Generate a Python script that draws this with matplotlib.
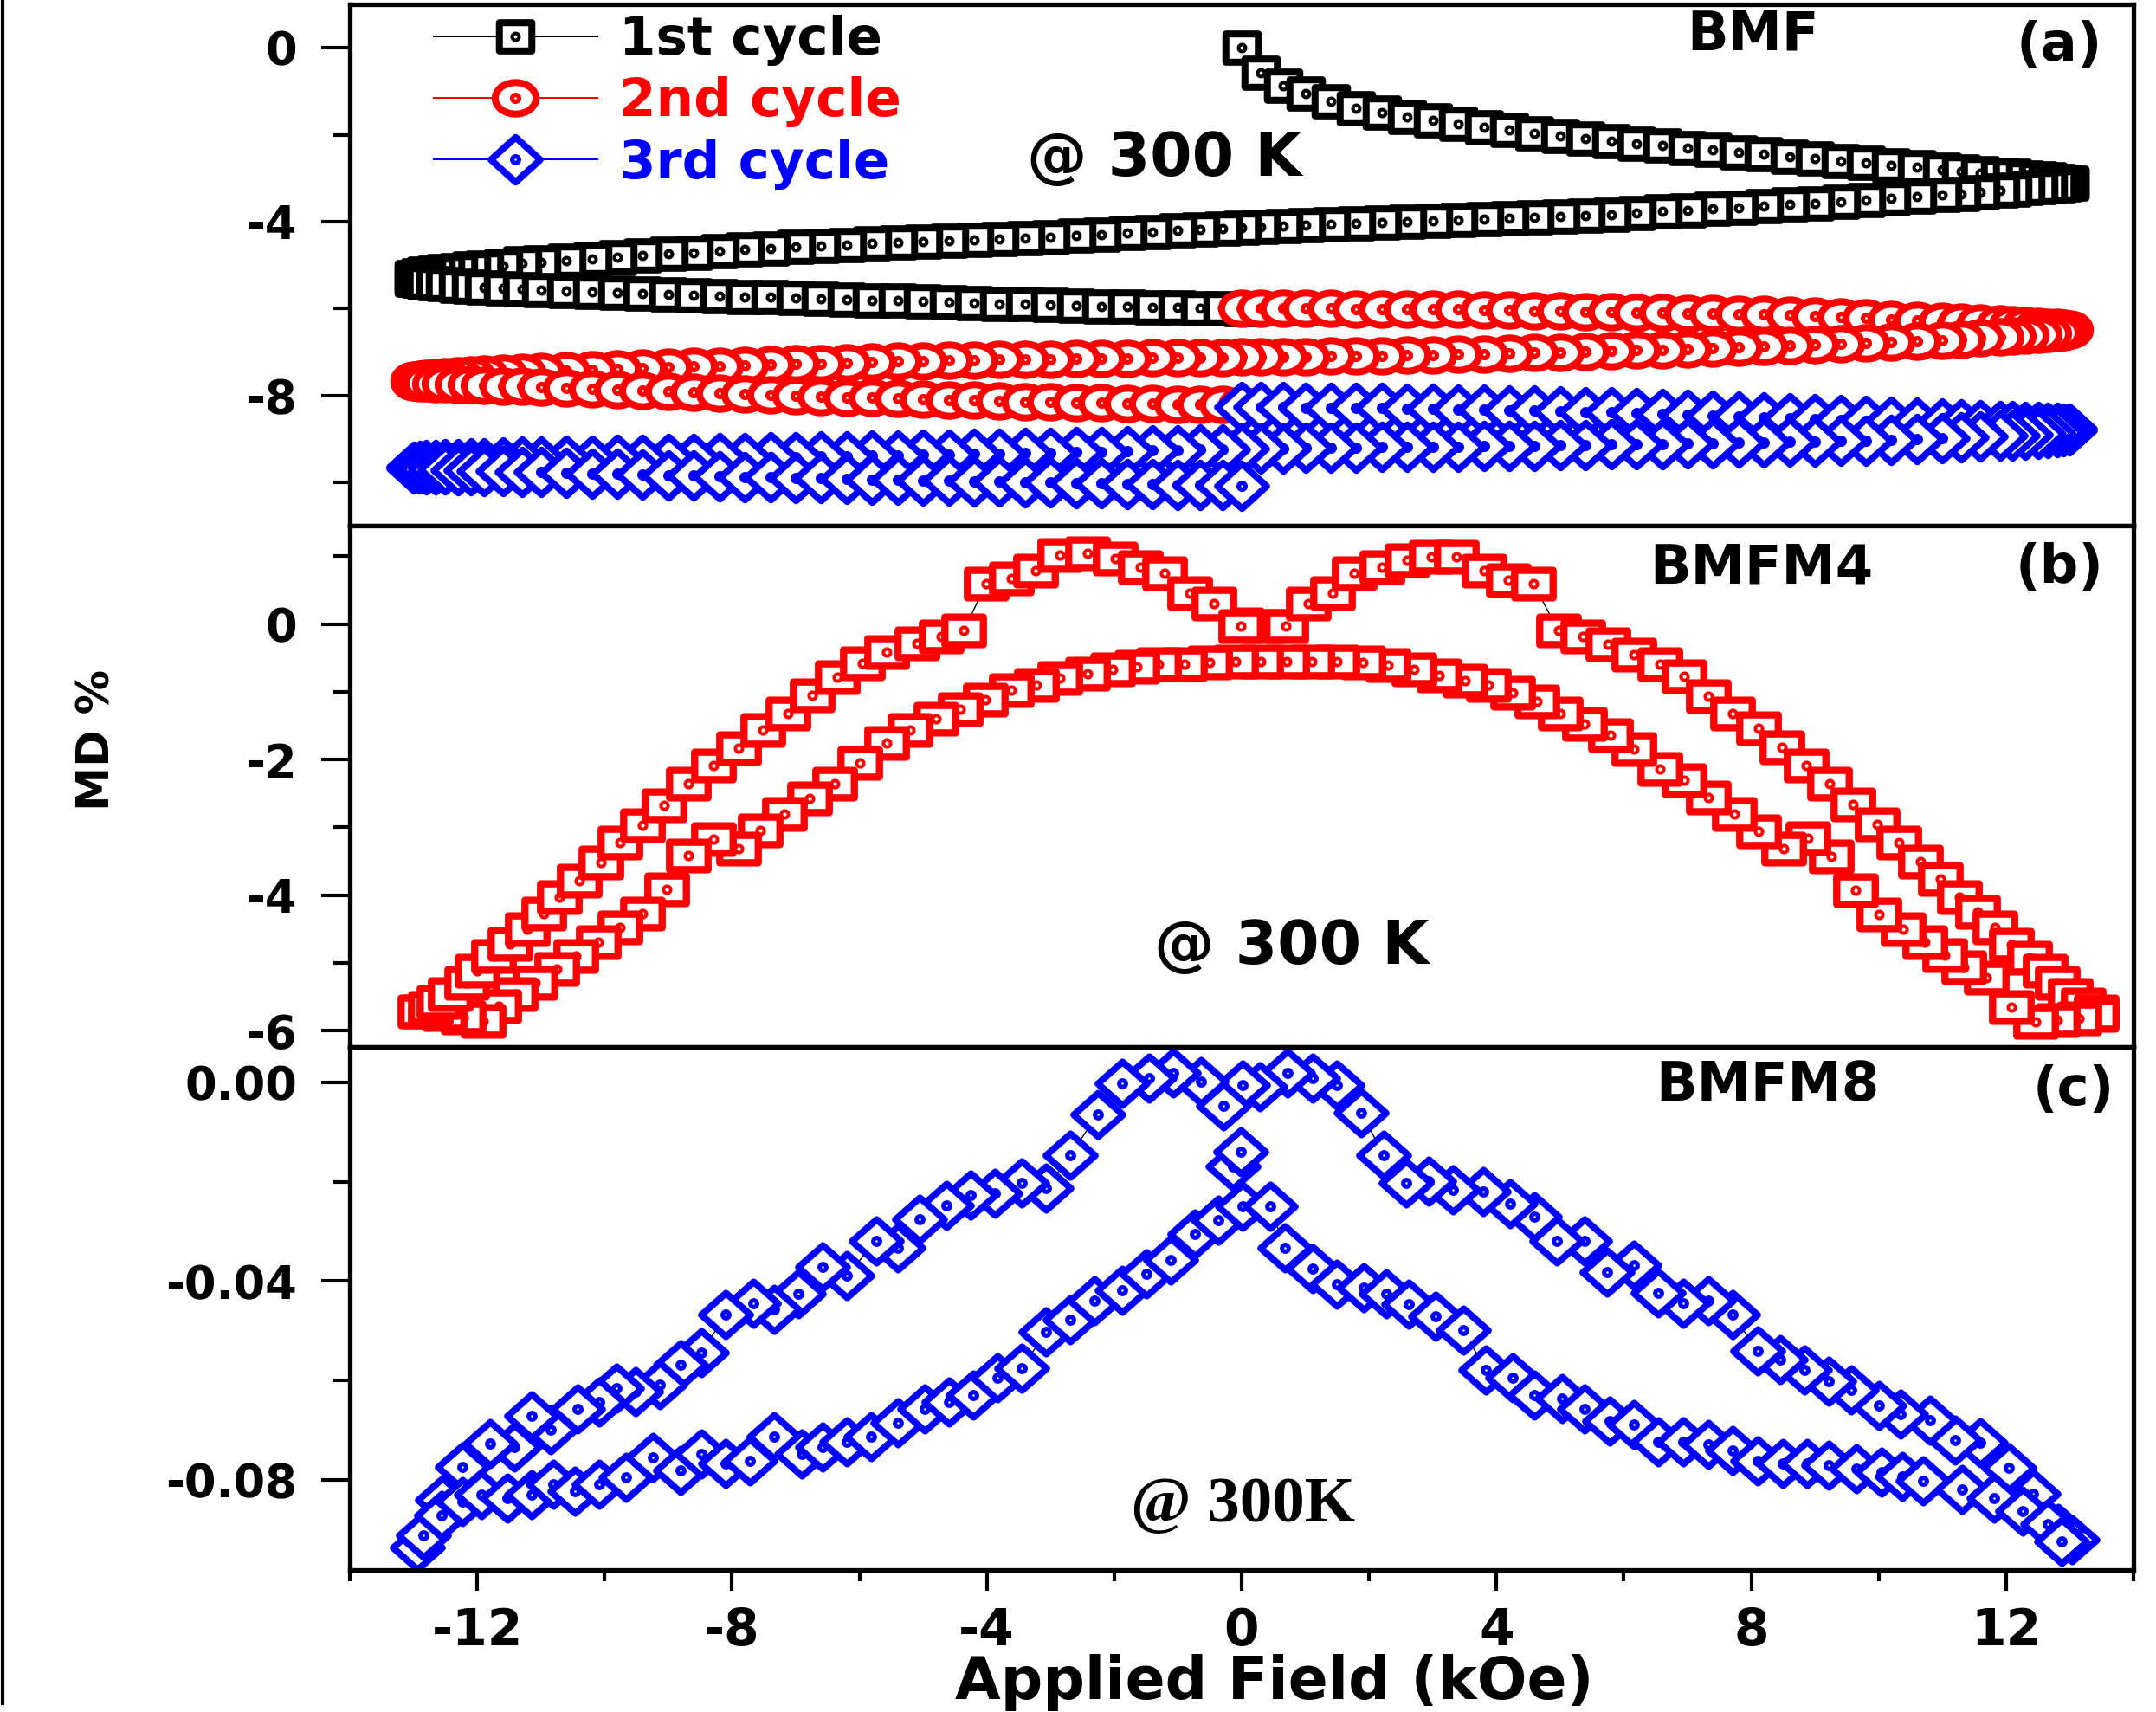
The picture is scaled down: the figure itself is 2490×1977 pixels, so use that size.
import numpy as np
import matplotlib
matplotlib.use('Agg')
import matplotlib.pyplot as plt
from matplotlib.path import Path
from matplotlib.markers import MarkerStyle
from matplotlib.ticker import FixedLocator, FormatStrFormatter
from matplotlib.lines import Line2D

plt.rcParams['font.family'] = 'DejaVu Sans'
plt.rcParams['font.weight'] = 'bold'
plt.rcParams['axes.unicode_minus'] = False

# ---------------- panel (a) : BMF, three cycles ----------------
# field steps of one quadrant (kOe)
Ha_q = [0.0, 0.3, 0.65, 1.0, 1.4, 1.8, 2.2, 2.6, 3.0, 3.4, 3.8, 4.2, 4.6, 5.0, 5.4,
        5.8, 6.2, 6.6, 7.0, 7.4, 7.8, 8.2, 8.6, 9.0, 9.4, 9.8, 10.2, 10.6, 11.0,
        11.3, 11.6, 11.9, 12.1, 12.3, 12.5, 12.65, 12.8, 12.9, 13.0]

# 1st cycle (black)
c1_up = [0.00, -0.57, -0.88, -1.05, -1.23, -1.40, -1.50, -1.59, -1.68, -1.76,
         -1.83, -1.90, -1.97, -2.03, -2.09, -2.15, -2.20, -2.25, -2.30, -2.35,
         -2.40, -2.45, -2.50, -2.55, -2.60, -2.65, -2.70, -2.75, -2.80, -2.84,
         -2.88, -2.92, -2.95, -2.98, -3.01, -3.03, -3.06, -3.08, -3.10]
c1_dn_pos = [-3.12, -3.14, -3.16, -3.18, -3.20, -3.23, -3.26, -3.29, -3.32, -3.36,
             -3.39, -3.43, -3.47, -3.51, -3.55, -3.58, -3.61, -3.65, -3.68, -3.71,
             -3.74, -3.77, -3.80, -3.84, -3.86, -3.88, -3.90, -3.92, -3.95, -3.97,
             -3.99, -4.01, -4.03, -4.05, -4.07, -4.09, -4.11, -4.13, -4.15]
c1_dn_neg = [-4.17, -4.19, -4.21, -4.24, -4.27, -4.30, -4.33, -4.36, -4.38, -4.40,
             -4.42, -4.44, -4.46, -4.48, -4.51, -4.54, -4.56, -4.59, -4.62, -4.65,
             -4.68, -4.72, -4.75, -4.78, -4.82, -4.86, -4.90, -4.94, -4.97, -5.01,
             -5.05, -5.08, -5.11, -5.14, -5.17, -5.20, -5.23, -5.27]
c1_ret = [-5.33, -5.36, -5.39, -5.42, -5.44, -5.47, -5.49, -5.51, -5.53, -5.55,
          -5.57, -5.59, -5.61, -5.63, -5.65, -5.67, -5.69, -5.71, -5.73, -5.74,
          -5.76, -5.78, -5.79, -5.81, -5.82, -5.84, -5.86, -5.87, -5.89, -5.90,
          -5.92, -5.93, -5.95, -5.96, -5.97, -5.98, -5.99, -6.00, -6.01]

# 2nd cycle (red)
c2_up = [-6.00, -6.00, -6.00, -6.00, -6.00, -6.01, -6.01, -6.01, -6.02, -6.02,
         -6.03, -6.04, -6.05, -6.06, -6.07, -6.08, -6.09, -6.10, -6.11, -6.12,
         -6.13, -6.14, -6.16, -6.18, -6.20, -6.22, -6.25, -6.27, -6.30, -6.32,
         -6.34, -6.36, -6.38, -6.40, -6.41, -6.43, -6.44, -6.46, -6.47]
c2_dn_pos = [-6.50, -6.53, -6.55, -6.58, -6.60, -6.62, -6.64, -6.66, -6.68, -6.71,
             -6.73, -6.75, -6.78, -6.80, -6.82, -6.84, -6.86, -6.88, -6.89, -6.91,
             -6.93, -6.95, -6.96, -6.98, -6.99, -7.01, -7.02, -7.04, -7.05, -7.06,
             -7.07, -7.08, -7.09, -7.10, -7.10, -7.11, -7.11, -7.12, -7.12]
c2_dn_neg = [-7.13, -7.13, -7.14, -7.14, -7.15, -7.16, -7.16, -7.17, -7.17, -7.18,
             -7.19, -7.20, -7.21, -7.22, -7.24, -7.25, -7.27, -7.28, -7.30, -7.31,
             -7.33, -7.34, -7.36, -7.38, -7.40, -7.42, -7.44, -7.46, -7.48, -7.50,
             -7.52, -7.54, -7.56, -7.58, -7.60, -7.62, -7.64, -7.66]
c2_ret = [-7.70, -7.71, -7.72, -7.73, -7.74, -7.75, -7.76, -7.77, -7.79, -7.80,
          -7.82, -7.84, -7.86, -7.88, -7.90, -7.92, -7.94, -7.96, -7.98, -7.99,
          -8.01, -8.02, -8.04, -8.05, -8.07, -8.08, -8.10, -8.11, -8.12, -8.14,
          -8.15, -8.16, -8.17, -8.18, -8.19, -8.20, -8.21, -8.21, -8.22]

# 3rd cycle (blue)
c3_up = [-8.27, -8.27, -8.27, -8.28, -8.28, -8.28, -8.29, -8.30, -8.31, -8.32,
         -8.33, -8.34, -8.35, -8.36, -8.38, -8.39, -8.41, -8.43, -8.44, -8.46,
         -8.48, -8.50, -8.52, -8.54, -8.56, -8.58, -8.61, -8.63, -8.65, -8.67,
         -8.68, -8.70, -8.71, -8.72, -8.73, -8.74, -8.75, -8.76, -8.77]
c3_dn_pos = [-8.80, -8.82, -8.84, -8.86, -8.88, -8.90, -8.92, -8.93, -8.95, -8.97,
             -8.98, -9.00, -9.02, -9.04, -9.05, -9.06, -9.07, -9.08, -9.09, -9.10,
             -9.11, -9.12, -9.13, -9.13, -9.14, -9.15, -9.16, -9.16, -9.17, -9.18,
             -9.18, -9.19, -9.19, -9.20, -9.21, -9.21, -9.22, -9.22, -9.23]
c3_dn_neg = [-9.24, -9.25, -9.26, -9.27, -9.28, -9.30, -9.31, -9.32, -9.33, -9.34,
             -9.35, -9.36, -9.37, -9.38, -9.39, -9.40, -9.41, -9.42, -9.43, -9.44,
             -9.45, -9.46, -9.47, -9.48, -9.49, -9.50, -9.51, -9.52, -9.53, -9.54,
             -9.56, -9.57, -9.58, -9.59, -9.60, -9.61, -9.62, -9.64]
c3_ret = [-9.68, -9.69, -9.70, -9.70, -9.71, -9.72, -9.73, -9.74, -9.75, -9.76,
          -9.77, -9.78, -9.80, -9.81, -9.82, -9.84, -9.85, -9.86, -9.88, -9.89,
          -9.90, -9.91, -9.92, -9.94, -9.95, -9.96, -9.97, -9.98, -9.99, -10.00,
          -10.01, -10.02, -10.03, -10.04, -10.05, -10.06, -10.07, -10.07, -10.08]

# ---------------- panel (b) : BMFM4 ----------------
b_H1 = [0.00, 0.35, 0.69, 1.04, 1.43, 1.77, 2.20, 2.59, 2.98, 3.37, 3.80, 4.19, 4.58,
        4.97, 5.35, 5.75, 6.16, 6.57, 6.95, 7.32, 7.70, 8.11, 8.48, 8.86, 9.23, 9.60,
        9.98, 10.32, 10.66, 10.97, 11.27, 11.55, 11.82, 12.09, 12.37, 12.61, 12.81,
        13.01, 13.21, 13.42]
b_M1 = [0.00, -0.03, -0.03, 0.30, 0.45, 0.75, 0.84, 0.94, 0.99, 0.99, 0.79, 0.64, 0.60,
        -0.10, -0.18, -0.30, -0.45, -0.60, -0.77, -1.07, -1.32, -1.54, -1.82, -2.09,
        -2.36, -2.66, -2.96, -3.23, -3.51, -3.76, -4.03, -4.25, -4.48, -4.73, -4.92,
        -5.12, -5.30, -5.47, -5.62, -5.72]
b_H2 = [13.42, 13.14, 12.81, 12.47, 12.09, 11.69, 11.34, 11.04, 10.73, 10.39, 10.01,
        9.64, 9.26, 8.89, 8.51, 8.11, 7.73, 7.32, 6.95, 6.57, 6.16, 5.79, 5.38, 5.00,
        4.63, 4.25, 3.88, 3.50, 3.10, 2.70, 2.30, 1.90, 1.50, 1.10, 0.70, 0.30, -0.10,
        -0.50, -0.90, -1.30, -1.65, -2.03, -2.42, -2.85, -3.22, -3.62, -4.03, -4.42,
        -4.80, -5.20, -5.57, -6.00, -6.39, -6.78, -7.17, -7.56, -7.90, -8.29, -8.68,
        -9.02, -9.41, -9.76, -10.10, -10.45, -10.75, -11.09, -11.40, -11.66, -11.91,
        -12.22, -12.52, -12.85]
b_M2 = [-5.77, -5.82, -5.84, -5.87, -5.65, -5.22, -5.07, -4.88, -4.70, -4.50, -4.28,
        -3.93, -3.43, -3.16, -3.31, -3.06, -2.81, -2.56, -2.31, -2.14, -1.84, -1.64,
        -1.47, -1.32, -1.14, -1.02, -0.90, -0.84, -0.76, -0.67, -0.61, -0.57, -0.56,
        -0.56, -0.56, -0.56, -0.56, -0.57, -0.59, -0.60, -0.63, -0.67, -0.74, -0.80,
        -0.90, -0.98, -1.12, -1.26, -1.40, -1.57, -1.75, -2.05, -2.36, -2.57, -2.81,
        -3.05, -3.31, -3.18, -3.42, -3.92, -4.27, -4.48, -4.69, -4.90, -5.09, -5.30,
        -5.46, -5.64, -5.86, -5.80, -5.75, -5.72]
b_H3 = [-12.90, -12.73, -12.60, -12.43, -12.17, -12.00, -11.74, -11.48, -11.22, -10.96,
        -10.71, -10.40, -10.06, -9.76, -9.41, -9.07, -8.68, -8.29, -7.90, -7.51, -7.12,
        -6.74, -6.35, -5.96, -5.57, -5.10, -4.71, -4.36, -4.01, -3.62, -3.23, -2.85,
        -2.42, -1.98, -1.59, -1.21, -0.82, -0.43, -0.02]
b_M3 = [-5.72, -5.67, -5.57, -5.46, -5.30, -5.11, -4.90, -4.72, -4.50, -4.27, -4.03,
        -3.79, -3.52, -3.23, -2.97, -2.68, -2.36, -2.09, -1.83, -1.56, -1.32, -1.06,
        -0.79, -0.58, -0.42, -0.29, -0.18, -0.10, 0.60, 0.67, 0.79, 1.02, 1.04, 0.97,
        0.84, 0.75, 0.45, 0.30, -0.03]

# ---------------- panel (c) : BMFM8 ----------------
c_H_up = [13.04, 12.82, 12.43, 12.04, 11.59, 11.20, 10.81, 10.35, 10.00, 9.57,
          9.22, 8.84, 8.45, 8.10, 7.71, 7.32, 6.93, 6.54, 6.16, 5.73,
          5.38, 4.95, 4.60, 4.21, 3.79, 3.32, 2.93, 2.58, 2.23, 1.88,
          1.50, 1.11, 0.72, 0.29, 0.02, -0.29, -0.64, -1.07, -1.45, -1.88,
          -2.26, -2.69, -3.07, -3.45, -3.88, -4.26, -4.63, -5.06, -5.39, -5.73,
          -6.20, -6.58, -6.96, -7.34, -7.67, -8.10, -8.48, -8.81, -9.14, -9.52,
          -9.81, -10.09, -10.43, -10.85, -11.14, -11.42, -11.80, -12.23, -12.55, -12.94]
c_M_up = [-0.0920, -0.0898, -0.0828, -0.0776, -0.0725, -0.0720, -0.0680, -0.0668, -0.0650, -0.0619,
          -0.0602, -0.0578, -0.0557, -0.0540, -0.0468, -0.0440, -0.0444, -0.0423, -0.0368, -0.0382,
          -0.0319, -0.0319, -0.0271, -0.0244, -0.0220, -0.0216, -0.0199, -0.0202, -0.0147, -0.0061,
          -0.0006, 0.0008, 0.0018, -0.0009, -0.0006, -0.0047, 0.0001, 0.0018, 0.0008, -0.0002,
          -0.0064, -0.0147, -0.0213, -0.0202, -0.0223, -0.0226, -0.0247, -0.0275, -0.0333, -0.0319,
          -0.0388, -0.0371, -0.0426, -0.0457, -0.0444, -0.0468, -0.0543, -0.0568, -0.0609, -0.0623,
          -0.0616, -0.0643, -0.0657, -0.0699, -0.0671, -0.0733, -0.0726, -0.0774, -0.0840, -0.0935]
c_H_lo = [-12.85, -12.56, -12.23, -11.94, -11.52, -11.14, -10.80, -10.47, -10.09, -9.67,
          -9.24, -8.81, -8.48, -8.10, -7.72, -7.34, -6.91, -6.58, -6.20, -5.82,
          -5.39, -4.97, -4.59, -4.21, -3.83, -3.45, -3.07, -2.69, -2.31, -1.88,
          -1.50, -1.12, -0.74, -0.37, 0.02, 0.45, 0.68, 1.11, 1.50, 1.92,
          2.27, 2.62, 3.05, 3.48, 3.83, 4.25, 4.60, 5.03, 5.38, 5.77,
          6.16, 6.54, 6.93, 7.32, 7.71, 8.10, 8.49, 8.88, 9.22, 9.65,
          10.04, 10.37, 10.70, 11.31, 11.81, 12.26, 12.65, 12.87]
c_M_lo = [-0.0912, -0.0871, -0.0843, -0.0829, -0.0836, -0.0829, -0.0809, -0.0822, -0.0809, -0.0795,
          -0.0754, -0.0781, -0.0747, -0.0767, -0.0761, -0.0712, -0.0747, -0.0733, -0.0723, -0.0712,
          -0.0685, -0.0657, -0.0643, -0.0630, -0.0595, -0.0575, -0.0502, -0.0478, -0.0440, -0.0419,
          -0.0385, -0.0357, -0.0306, -0.0278, -0.0250, -0.0250, -0.0333, -0.0375, -0.0406, -0.0413,
          -0.0426, -0.0447, -0.0471, -0.0499, -0.0578, -0.0595, -0.0630, -0.0637, -0.0657, -0.0681,
          -0.0688, -0.0723, -0.0723, -0.0729, -0.0740, -0.0761, -0.0767, -0.0767, -0.0771, -0.0778,
          -0.0785, -0.0793, -0.0802, -0.0819, -0.0837, -0.0863, -0.0889, -0.0924]
c_H_mid = [-0.14, -0.02]
c_M_mid = [-0.0170, -0.0140]

labels_a = ['1st cycle', '2nd cycle', '3rd cycle']


# ---------------- markers (open symbol with a centre dot) ----------------
def box(aspect):
    rect = Path([(-aspect, -1), (aspect, -1), (aspect, 1), (-aspect, 1), (-aspect, -1)],
                [Path.MOVETO, Path.LINETO, Path.LINETO, Path.LINETO, Path.CLOSEPOLY])
    return MarkerStyle(Path.make_compound_path(rect, Path.circle((0, 0), 0.12)), joinstyle='miter')


def diamond(aspect):
    d = Path([(0, -1), (aspect, 0), (0, 1), (-aspect, 0), (0, -1)],
             [Path.MOVETO, Path.LINETO, Path.LINETO, Path.LINETO, Path.CLOSEPOLY])
    return MarkerStyle(Path.make_compound_path(d, Path.circle((0, 0), 0.1)), joinstyle='miter')


def ellipse(aspect):
    uc = Path.unit_circle()
    e = Path(uc.vertices * [aspect, 1.0], uc.codes)
    return MarkerStyle(Path.make_compound_path(e, Path.circle((0, 0), 0.14)))


fig = plt.figure(figsize=(24.9, 19.77), dpi=100)
L, W = 404 / 2490, 2060 / 2490
axa = fig.add_axes([L, 1 - 607 / 1977, W, 602 / 1977])
axb = fig.add_axes([L, 1 - 1209 / 1977, W, 602 / 1977])
axc = fig.add_axes([L, 1 - 1813 / 1977, W, 604 / 1977])

# panel (a)
H1 = Ha_q
H2 = Ha_q[::-1] + [-h for h in Ha_q[1:]]
H3 = [-h for h in Ha_q[::-1]]
Hcyc = H1 + H2 + H3
cyc1 = c1_up + c1_dn_pos + c1_dn_neg + c1_ret
cyc2 = c2_up + c2_dn_pos + c2_dn_neg + c2_ret
cyc3 = c3_up + c3_dn_pos + c3_dn_neg + c3_ret

l1, = axa.plot(Hcyc, cyc1, color='black', lw=1.5, marker=box(1.15), ms=27, mfc='white',
               mec='black', mew=5.8)
l2, = axa.plot(Hcyc, cyc2, color='red', lw=1.5, marker=ellipse(1.3), ms=34, mfc='white',
               mec='red', mew=5.8)
l3, = axa.plot(Hcyc, cyc3, color='blue', lw=1.5, marker=diamond(1.1), ms=41, mfc='white',
               mec='blue', mew=5.6)
axa.legend([l1, l2, l3], labels_a, loc='upper left', bbox_to_anchor=(0.044, 0.99),
           frameon=False, fontsize=44, handlelength=3.1, handletextpad=0.4,
           labelspacing=0.2, borderpad=0.1, borderaxespad=0, numpoints=1,
           labelcolor='linecolor')
axa.text(8.03, 0.29, 'BMF', fontsize=45, ha='center', va='center')
axa.text(12.84, 0.05, '(a)', fontsize=45, ha='center', va='center')
axa.text(-1.21, -2.56, '@ 300 K', fontsize=50, ha='center', va='center')
axa.set_ylim(-11, 1)
axa.yaxis.set_major_locator(FixedLocator([-8, -4, 0]))
axa.yaxis.set_minor_locator(FixedLocator([-10, -6, -2]))
axa.yaxis.set_major_formatter(FormatStrFormatter('%d'))

# panel (b)
bH = b_H1 + b_H2 + b_H3
bM = b_M1 + b_M2 + b_M3
axb.plot(bH, bM, color='black', lw=1.0, marker=box(1.4), ms=32, mfc='white',
         mec='red', mew=6.0)
axb.text(8.16, 0.82, 'BMFM4', fontsize=45, ha='center', va='center')
axb.text(12.84, 0.82, '(b)', fontsize=45, ha='center', va='center')
axb.text(0.78, -4.76, '@ 300 K', fontsize=50, ha='center', va='center')
axb.set_ylim(-6.24, 1.45)
axb.yaxis.set_major_locator(FixedLocator([-6, -4, -2, 0]))
axb.yaxis.set_minor_locator(FixedLocator([-5, -3, -1, 1]))
axb.yaxis.set_major_formatter(FormatStrFormatter('%d'))

# panel (c)
mk_c = diamond(1.13)
axc.plot(c_H_up + c_H_lo, c_M_up + c_M_lo, color='black', lw=1.0, marker=mk_c, ms=41,
         mfc='white', mec='blue', mew=5.6)
axc.plot(c_H_mid, c_M_mid, color='black', lw=1.0, marker=mk_c, ms=41,
         mfc='white', mec='blue', mew=5.6)
axc.text(8.25, -0.0008, 'BMFM8', fontsize=45, ha='center', va='center')
axc.text(13.06, -0.0016, '(c)', fontsize=45, ha='center', va='center')
axc.text(0.02, -0.0852, '@ 300K', fontsize=54, ha='center', va='center',
         family='Liberation Serif', fontweight='bold')
axc.set_ylim(-0.0981, 0.0071)
axc.yaxis.set_major_locator(FixedLocator([-0.08, -0.04, 0.0]))
axc.yaxis.set_minor_locator(FixedLocator([-0.06, -0.02]))
axc.yaxis.set_major_formatter(FormatStrFormatter('%.2f'))

for ax in (axa, axb, axc):
    ax.set_xlim(-14, 14)
    for s in ax.spines.values():
        s.set_linewidth(3.8)
    ax.tick_params(axis='y', which='major', direction='out', length=24, width=3,
                   pad=20, labelsize=38)
    ax.tick_params(axis='y', which='minor', direction='out', length=14, width=3)
    ax.xaxis.set_major_locator(FixedLocator([-12, -8, -4, 0, 4, 8, 12]))
    ax.xaxis.set_minor_locator(FixedLocator([-14, -10, -6, -2, 2, 6, 10, 14]))
for ax in (axa, axb):
    ax.tick_params(axis='x', which='both', bottom=False, labelbottom=False)
axc.tick_params(axis='x', which='major', direction='out', length=17, width=3,
                pad=13, labelsize=42)
axc.tick_params(axis='x', which='minor', direction='out', length=9, width=3)
axc.xaxis.set_major_formatter(FormatStrFormatter('%d'))

fig.text(1472 / 2490, 0.017, 'Applied Field (kOe)', fontsize=49, ha='center', va='center')
fig.text(113 / 2490, 0.568, 'MD %', fontsize=37, rotation=90, ha='center', va='center')
fig.add_artist(Line2D([0.0012, 0.0012], [0.005, 1.0], transform=fig.transFigure,
                      color='black', lw=3))

fig.savefig('out.png', dpi=100)
